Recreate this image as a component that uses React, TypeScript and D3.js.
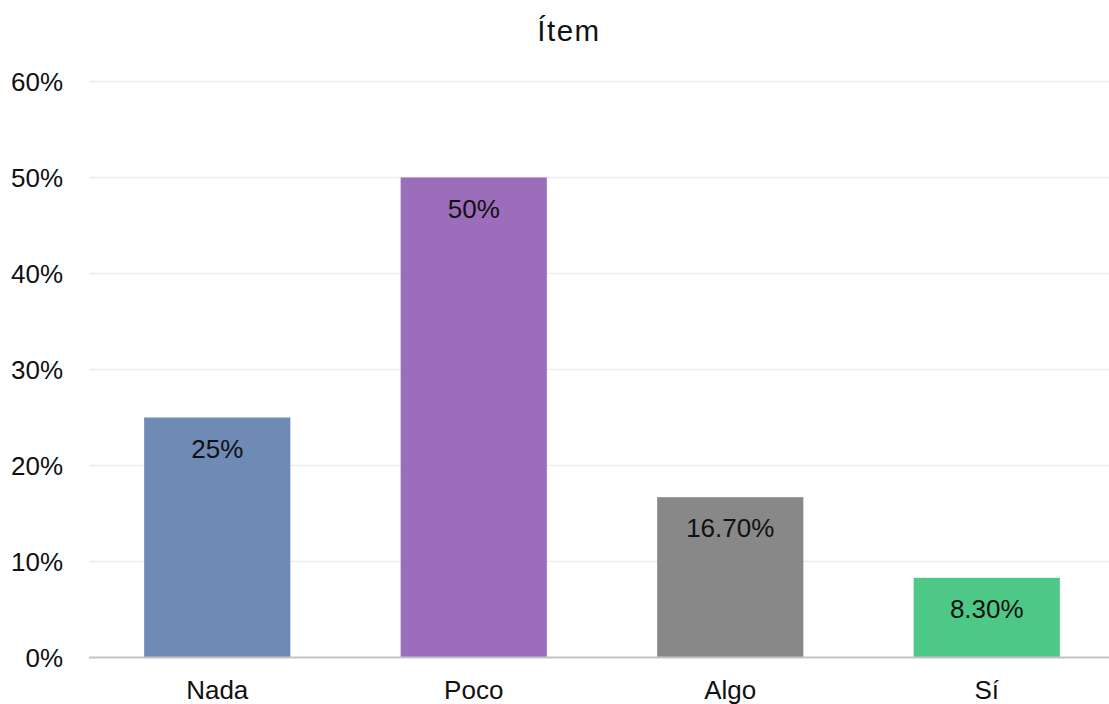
import React from "react";
import * as d3 from "d3";

const categories = ["Nada", "Poco", "Algo", "Sí"];
const values = [25, 50, 16.7, 8.3];
const valueLabels = ["25%", "50%", "16.70%", "8.30%"];
const colors = ["#6e8bb5", "#9b6dba", "#888888", "#4dc886"];
const yTicks = [0, 10, 20, 30, 40, 50, 60];
const title = "Ítem";

export default function App() {
  const W = 1109;
  const H = 704;
  const left = 89;
  const right = 1115;
  const top = 81.5;
  const bottom = 657.5;
  const x = d3.scaleBand().domain(categories).range([left, right]).paddingInner(0.43).paddingOuter(0.215);
  const y = d3.scaleLinear().domain([0, 60]).range([bottom, top]);
  const font = "'Liberation Sans', Arial, sans-serif";
  return (
    <svg width={W} height={H} style={{ position: "absolute", left: 0, top: 0, display: "block" }} fontFamily={font}>
      <rect width={W} height={H} fill="#ffffff" />
      <text x={569} y={41} textAnchor="middle" fontSize={29.5} letterSpacing={1.5} fill="#111">{title}</text>
      {yTicks.map((t) => (
        <g key={t}>
          {t > 0 && <line x1={left} x2={W} y1={y(t)} y2={y(t)} stroke="#ebebeb" strokeWidth={1.5} />}
          <text x={63} y={y(t)} dy="0.35em" textAnchor="end" fontSize={26} fill="#111">{t}%</text>
        </g>
      ))}
      {categories.map((c, i) => (
        <g key={c}>
          <rect x={x(c)} y={y(values[i])} width={x.bandwidth()} height={bottom - y(values[i])} fill={colors[i]} />
          <text x={(x(c) as number) + x.bandwidth() / 2} y={y(values[i]) + 40} textAnchor="middle" fontSize={26} fill="#111">{valueLabels[i]}</text>
          <text x={(x(c) as number) + x.bandwidth() / 2} y={699} textAnchor="middle" fontSize={26} fill="#111">{c}</text>
        </g>
      ))}
      <line x1={left} x2={W} y1={bottom} y2={bottom} stroke="#c4c4c4" strokeWidth={2} />
    </svg>
  );
}
